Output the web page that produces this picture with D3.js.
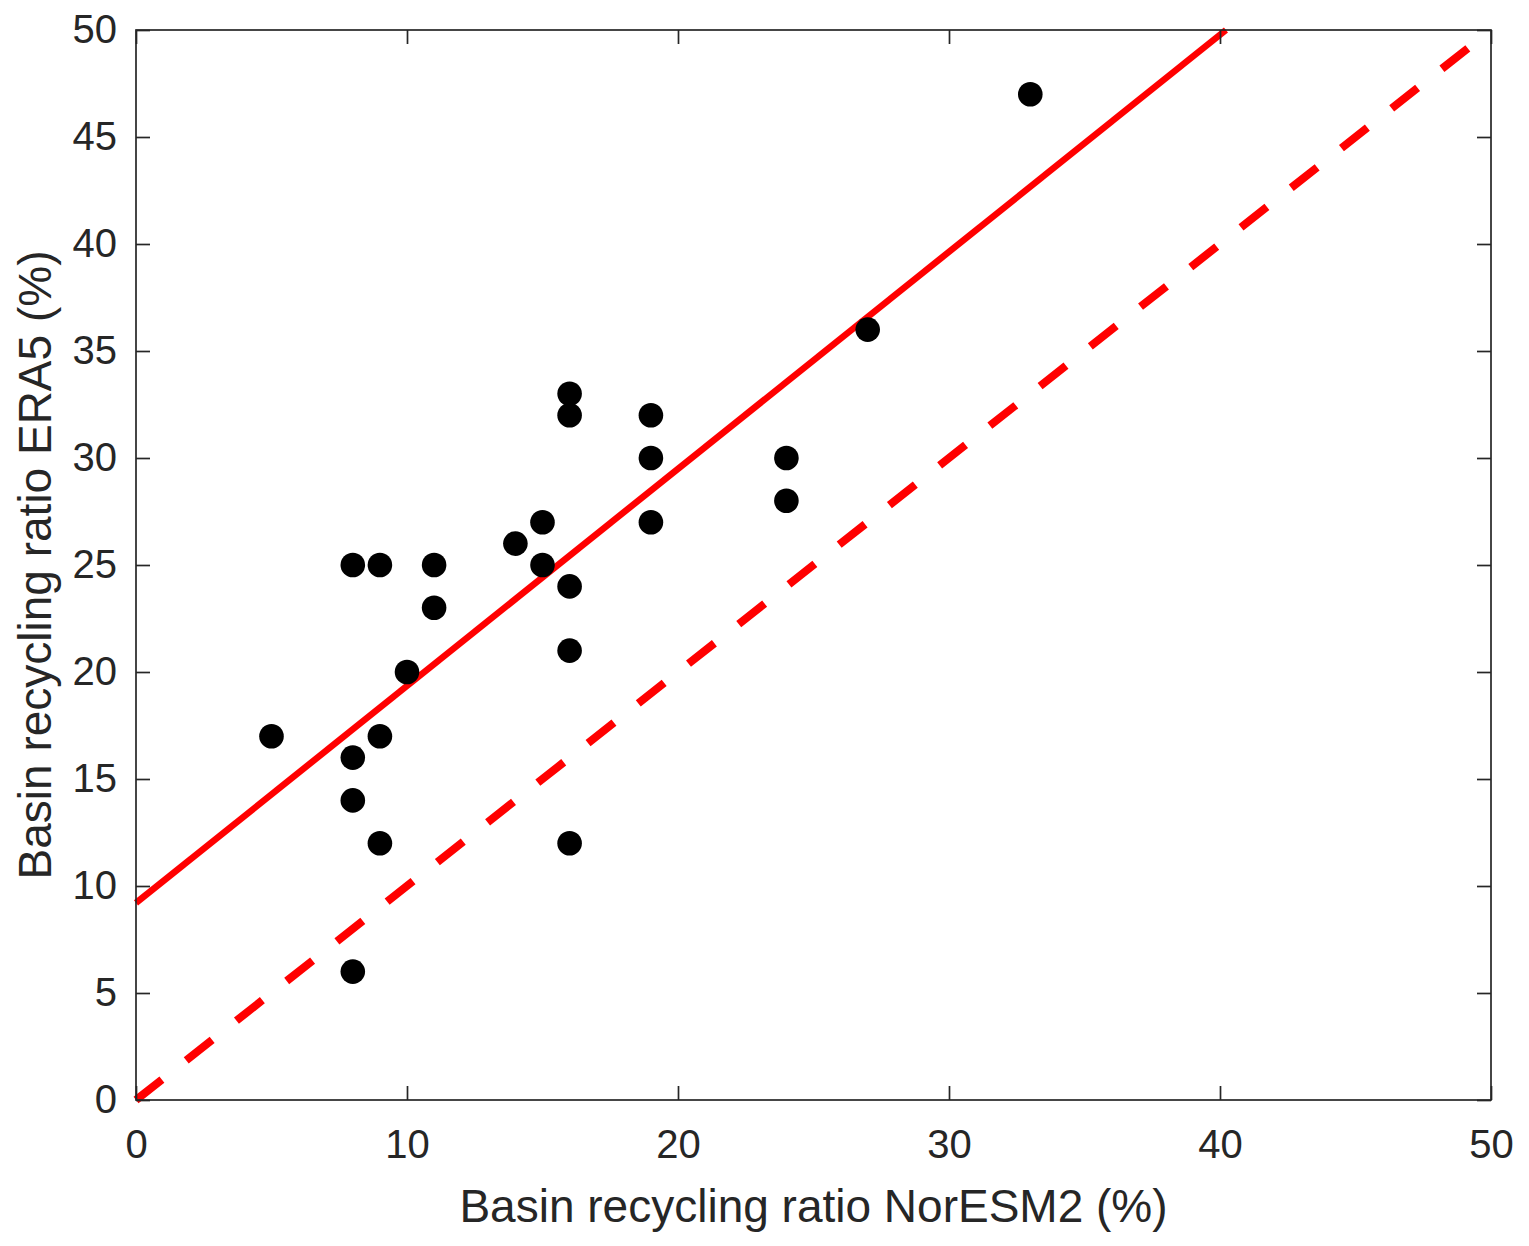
<!DOCTYPE html>
<html>
<head>
<meta charset="utf-8">
<script src="https://cdn.jsdelivr.net/npm/d3@7"></script>
<style>
  html, body { margin: 0; padding: 0; background: #fff; }
  svg { display: block; font-family: "Liberation Sans", Arial, Helvetica, sans-serif; }
</style>
</head>
<body>
<svg id="chart" width="1529" height="1246"></svg>
<script>
// ---- data ----
const noresm2 = [5, 8, 8, 8, 8, 9, 9, 9, 10, 11, 11, 14, 15, 15, 16, 16, 16, 16, 16, 19, 19, 19, 24, 24, 27, 33];
const era5    = [17, 25, 16, 14, 6, 25, 17, 12, 20, 25, 23, 26, 27, 25, 33, 32, 24, 21, 12, 32, 30, 27, 30, 28, 36, 47];
const fitLineX = [0, 40.22];
const fitLineY = [9.21, 50];
const oneToOneX = [0, 50];
const oneToOneY = [0, 50];
const xTicks = [0, 10, 20, 30, 40, 50];
const yTicks = [0, 5, 10, 15, 20, 25, 30, 35, 40, 45, 50];
const xLabel = "Basin recycling ratio NorESM2 (%)";
const yLabel = "Basin recycling ratio ERA5 (%)";

// ---- layout ----
const L = 136, R = 1491, T = 30, B = 1100;
const axisColor = "#262626";
const svg = d3.select("#chart");

const x = d3.scaleLinear().domain([0, 50]).range([L, R]);
const y = d3.scaleLinear().domain([0, 50]).range([B, T]);

// 1:1 dashed line
svg.append("line")
  .attr("x1", x(oneToOneX[0])).attr("y1", y(oneToOneY[0]))
  .attr("x2", x(oneToOneX[1])).attr("y2", y(oneToOneY[1]))
  .attr("stroke", "#ff0000").attr("stroke-width", 8)
  .attr("stroke-dasharray", "33,31");

// fit line
svg.append("line")
  .attr("x1", x(fitLineX[0])).attr("y1", y(fitLineY[0]))
  .attr("x2", x(fitLineX[1])).attr("y2", y(fitLineY[1]))
  .attr("stroke", "#ff0000").attr("stroke-width", 6.5);

// points
svg.append("g").selectAll("circle")
  .data(noresm2.map((v, i) => [v, era5[i]]))
  .join("circle")
  .attr("cx", d => x(d[0])).attr("cy", d => y(d[1]))
  .attr("r", 12.3).attr("fill", "#000");

// axes
const tickLen = 14;
function styleAxis(g) {
  g.attr("font-size", 40).attr("font-family", "Liberation Sans, Arial, sans-serif");
  g.selectAll(".domain").remove();
  g.selectAll(".tick line").attr("stroke", axisColor).attr("stroke-width", 1.7);
  g.selectAll(".tick text").attr("fill", axisColor);
}
svg.append("g").attr("transform", `translate(0,${B})`)
  .call(d3.axisBottom(x).tickValues(xTicks).tickSizeInner(-tickLen).tickSizeOuter(0).tickPadding(30))
  .call(styleAxis);
svg.append("g").attr("transform", `translate(0,${T})`)
  .call(d3.axisTop(x).tickValues(xTicks).tickSizeInner(-tickLen).tickSizeOuter(0).tickFormat(""))
  .call(styleAxis);
svg.append("g").attr("transform", `translate(${L},0)`)
  .call(d3.axisLeft(y).tickValues(yTicks).tickSizeInner(-tickLen).tickSizeOuter(0).tickPadding(19))
  .call(styleAxis);
svg.append("g").attr("transform", `translate(${R},0)`)
  .call(d3.axisRight(y).tickValues(yTicks).tickSizeInner(-tickLen).tickSizeOuter(0).tickFormat(""))
  .call(styleAxis);

// box
svg.append("rect")
  .attr("x", L).attr("y", T).attr("width", R - L).attr("height", B - T)
  .attr("fill", "none").attr("stroke", axisColor).attr("stroke-width", 1.7);

// axis labels
svg.append("text")
  .attr("x", (L + R) / 2).attr("y", 1222)
  .attr("text-anchor", "middle").attr("font-size", 46).attr("fill", axisColor)
  .text(xLabel);
svg.append("text")
  .attr("transform", `translate(51,${(T + B) / 2}) rotate(-90)`)
  .attr("text-anchor", "middle").attr("font-size", 46).attr("fill", axisColor)
  .text(yLabel);
</script>
</body>
</html>
